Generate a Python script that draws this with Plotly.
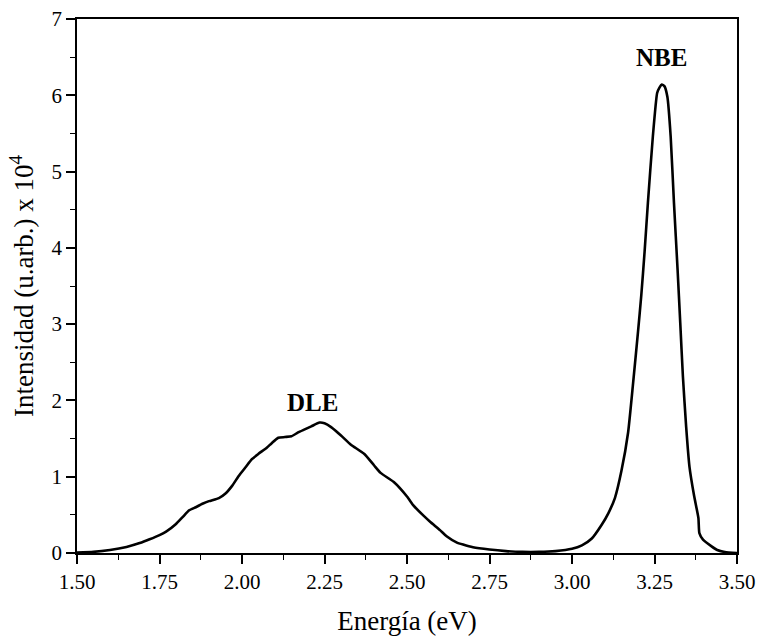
import plotly.graph_objects as go

# Photoluminescence spectrum: photon energy (eV) vs intensity (arb. units x 10^4)
energy = [
    1.50, 1.55, 1.60, 1.65, 1.69, 1.72, 1.75, 1.77, 1.80, 1.82,
    1.84, 1.86, 1.88, 1.90, 1.93, 1.95, 1.97, 1.99, 2.01, 2.03,
    2.05, 2.075, 2.09, 2.11, 2.13, 2.15, 2.17, 2.19, 2.21, 2.235,
    2.25, 2.27, 2.30, 2.33, 2.37, 2.40, 2.42, 2.46, 2.50, 2.52,
    2.55, 2.57, 2.60, 2.62, 2.65, 2.67, 2.70, 2.75, 2.80, 2.85,
    2.90, 2.95, 3.00, 3.03, 3.06, 3.09, 3.11, 3.13, 3.15, 3.17,
    3.185, 3.20, 3.21, 3.22, 3.23, 3.245, 3.258, 3.265, 3.272, 3.28,
    3.289, 3.299, 3.309, 3.32, 3.328, 3.336, 3.346, 3.356, 3.37, 3.383,
    3.386, 3.397, 3.423, 3.44, 3.463, 3.50,
]
intensity = [
    0.005, 0.015, 0.04, 0.08, 0.13, 0.18, 0.235, 0.28, 0.38, 0.47,
    0.56, 0.60, 0.645, 0.68, 0.72, 0.78, 0.88, 1.01, 1.12, 1.23,
    1.30, 1.38, 1.44, 1.51, 1.52, 1.53, 1.58, 1.62, 1.66, 1.71,
    1.70, 1.65, 1.54, 1.42, 1.30, 1.15, 1.05, 0.93, 0.74, 0.62,
    0.49, 0.41, 0.30, 0.22, 0.14, 0.11, 0.075, 0.045, 0.025, 0.015,
    0.015, 0.025, 0.055, 0.10, 0.19, 0.37, 0.52, 0.72, 1.08, 1.58,
    2.22, 2.90, 3.38, 3.95, 4.59, 5.46, 6.03, 6.10, 6.14, 6.12,
    5.98, 5.46, 4.59, 3.71, 3.02, 2.32, 1.65, 1.13, 0.75, 0.46,
    0.26, 0.175, 0.087, 0.04, 0.013, 0.0,
]

# Band labels placed above each emission band
band_labels = ["DLE", "NBE"]
band_x = [2.214, 3.27]
band_y = [1.97, 6.50]

x_ticks = [1.50, 1.75, 2.00, 2.25, 2.50, 2.75, 3.00, 3.25, 3.50]
y_ticks = [0, 1, 2, 3, 4, 5, 6, 7]

font_family = "Liberation Serif"

fig = go.Figure()
fig.add_trace(go.Scatter(
    x=energy, y=intensity, mode="lines",
    line=dict(color="black", width=2.6, shape="spline", smoothing=0.5),
    hoverinfo="skip", showlegend=False,
))

for txt, bx, by in zip(band_labels, band_x, band_y):
    fig.add_annotation(
        x=bx, y=by, text=f"<b>{txt}</b>", showarrow=False,
        font=dict(family=font_family, size=25, color="black"),
        xanchor="center", yanchor="middle",
    )

axis_common = dict(
    showline=True, linecolor="black", linewidth=1.6, mirror=True,
    ticks="outside", ticklen=9, tickwidth=1.6, tickcolor="black",
    showgrid=False, zeroline=False,
    tickfont=dict(family=font_family, size=21, color="black"),
)

fig.update_xaxes(
    range=[1.50, 3.50], tickvals=x_ticks,
    ticktext=[f"{v:.2f}" for v in x_ticks],
    minor=dict(ticks="outside", ticklen=5, tickwidth=1.4, tickcolor="black",
               dtick=0.125, tick0=1.5, showgrid=False),
    title=dict(text="Energía (eV)", standoff=18,
               font=dict(family=font_family, size=27, color="black")),
    **axis_common,
)
fig.update_yaxes(
    range=[0, 7], tickvals=y_ticks,
    minor=dict(ticks="outside", ticklen=5, tickwidth=1.4, tickcolor="black",
               dtick=0.5, tick0=0, showgrid=False),
    title=dict(text="Intensidad (u.arb.) x 10<sup>4</sup>", standoff=10,
               font=dict(family=font_family, size=27, color="black")),
    **axis_common,
)

fig.update_layout(
    width=758, height=639,
    margin=dict(l=77, r=21, t=19, b=86, autoexpand=False),
    plot_bgcolor="white", paper_bgcolor="white",
    font=dict(family=font_family, color="black"),
)

fig.write_html("out.html")
